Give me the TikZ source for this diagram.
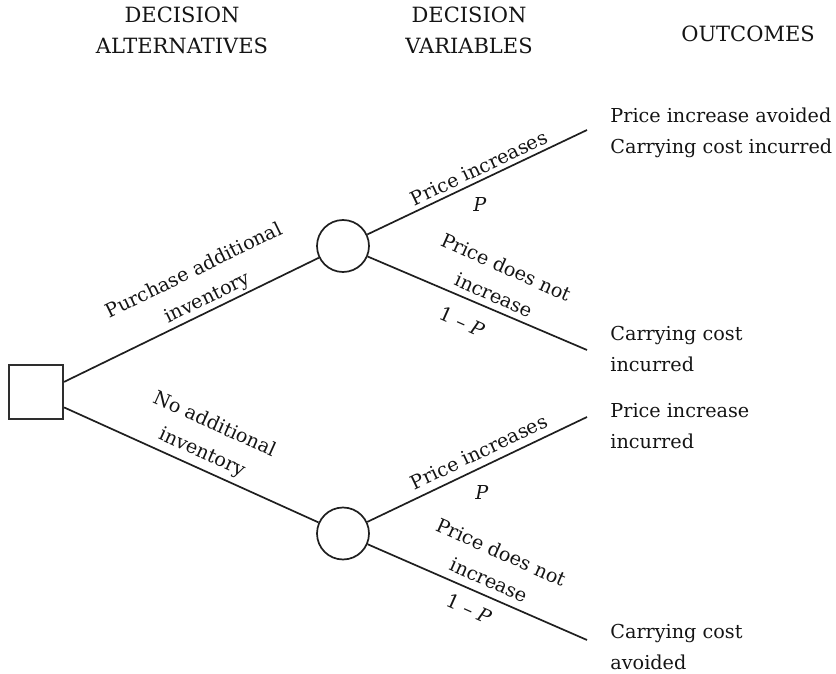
\documentclass[tikz,border=0pt]{standalone}
\usepackage{fontspec}
\setmainfont{DejaVu Serif}
\usetikzlibrary{calc}

\tikzset{
  txt/.style={font=\fontsize{9.6}{15.25}\selectfont, text=black!92, inner sep=0pt, align=center},
  headtxt/.style={txt, font=\fontsize{10.5}{15.25}\selectfont},
  outtxt/.style={txt, align=left, anchor=west},
  branch/.style={draw=black!88, line width=0.85pt},
  decbox/.style={draw=black!82, line width=0.85pt, minimum size=27pt, inner sep=0pt},
  chance/.style={draw=black!88, line width=0.85pt, circle, minimum size=26pt, inner sep=0pt}
}

\begin{document}
\begin{tikzpicture}[x=0.5pt,y=-0.5pt]
  \useasboundingbox (0,0) rectangle (836,674);

  % column headings
  \node[headtxt] (h1) at (182,30.5) {DECISION\\ALTERNATIVES};
  \node[headtxt] (h2) at (469,30.5) {DECISION\\VARIABLES};
  \node[headtxt] (h3) at (748,34) {OUTCOMES};

  % decision node and chance nodes
  \node[decbox] (sq) at (36.3,392) {};
  \node[chance] (c1) at (343,246) {};
  \node[chance] (c2) at (343,533.5) {};

  % free ends of the outcome branches
  \coordinate (e1) at (587,130);
  \coordinate (e2) at (587,350);
  \coordinate (e3) at (587,417);
  \coordinate (e4) at (587,640);

  % branches
  \draw[branch] (sq.20) -- (c1);
  \draw[branch] (sq.-29) -- (c2);
  \draw[branch] (c1) -- (e1);
  \draw[branch] (c1) -- (e2);
  \draw[branch] (c2) -- (e3);
  \draw[branch] (c2) -- (e4);

  % decision alternatives
  \node[txt, rotate=26] (la) at (201,285) {Purchase additional\\inventory};
  \node[txt, rotate=-24.2] (lb) at (208,439) {No additional\\inventory};

  % upper chance node
  \node[txt, rotate=25.4] (p1) at (479,168) {Price increases};
  \node[txt] (q1) at (480,205) {\textit{P}};
  \node[txt, rotate=-24] (n1) at (500,281) {Price does not\\increase};
  \node[txt, rotate=-24] (r1) at (462,322) {1 -- \textit{P}};

  % lower chance node
  \node[txt, rotate=25.4] (p2) at (479,452) {Price increases};
  \node[txt] (q2) at (482,492) {\textit{P}};
  \node[txt, rotate=-24] (n2) at (495,566) {Price does not\\increase};
  \node[txt, rotate=-24] (r2) at (469,609) {1 -- \textit{P}};

  % outcomes
  \node[outtxt] (o1) at (610,133) {Price increase avoided\\Carrying cost incurred};
  \node[outtxt] (o2) at (610,349) {Carrying cost\\incurred};
  \node[outtxt] (o3) at (610,426) {Price increase\\incurred};
  \node[outtxt] (o4) at (610,647) {Carrying cost\\avoided};
\end{tikzpicture}
\end{document}
